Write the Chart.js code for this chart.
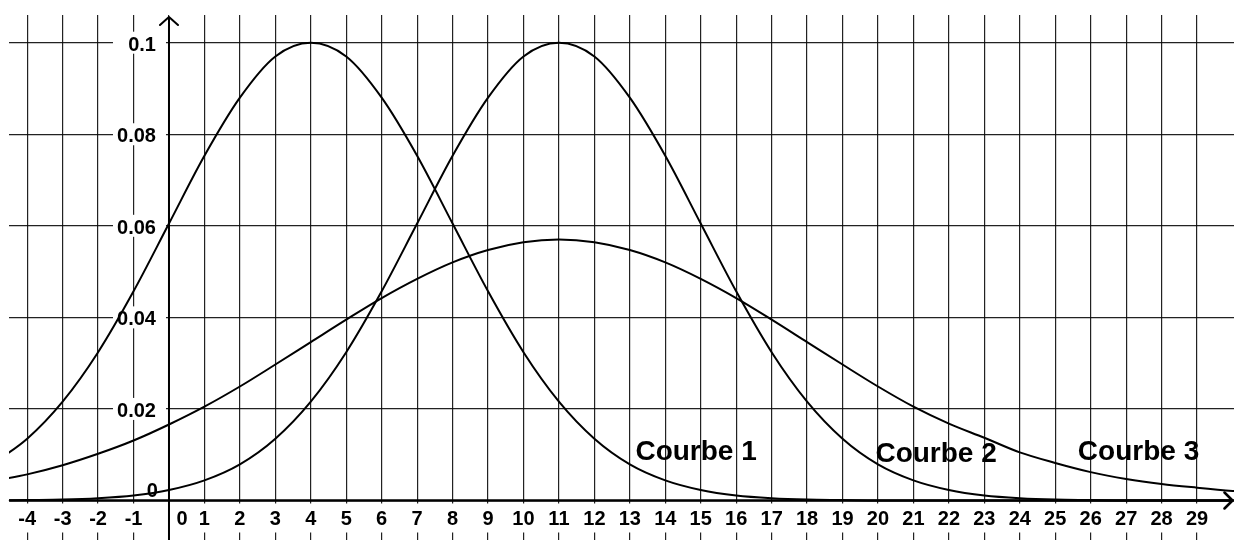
<!DOCTYPE html>
<html>
<head>
<meta charset="utf-8">
<script src="https://cdn.jsdelivr.net/npm/chart.js@4.4.1/dist/chart.umd.min.js"></script>
<style>
html,body{margin:0;padding:0;background:#fff;}
#wrap{width:1234px;height:540px;}
</style>
</head>
<body>
<div id="wrap"><canvas id="c" width="1234" height="540"></canvas></div>
<script>
// ---- data ----
const xValues = [-5,-4,-3,-2,-1,0,1,2,3,4,5,6,7,8,9,10,11,12,13,14,15,16,17,18,19,20,21,22,23,24,25,26,27,28,29,30,31];
const courbe1 = [0.0079,0.0135,0.0216,0.0324,0.0457,0.0605,0.0753,0.0880,0.0970,0.1000,0.0970,0.0880,0.0753,0.0605,0.0457,0.0324,0.0216,0.0135,0.0079,0.0044,0.0023,0.0011,0.0005,0.0002,0.0001,0,0,0,0,0,0,0,0,0,0,0,0];
const courbe2 = [0,0.0001,0.0002,0.0005,0.0011,0.0023,0.0044,0.0079,0.0135,0.0216,0.0324,0.0457,0.0605,0.0753,0.0880,0.0970,0.1000,0.0970,0.0880,0.0753,0.0605,0.0457,0.0324,0.0216,0.0135,0.0079,0.0044,0.0023,0.0011,0.0005,0.0002,0.0001,0,0,0,0,0];
const courbe3 = [0.0042,0.0057,0.0077,0.0102,0.0131,0.0166,0.0205,0.0249,0.0297,0.0346,0.0395,0.0442,0.0484,0.0520,0.0547,0.0564,0.0570,0.0564,0.0547,0.0520,0.0484,0.0442,0.0395,0.0346,0.0297,0.0249,0.0205,0.0168,0.0137,0.0105,0.0082,0.0062,0.0047,0.0036,0.0028,0.0021,0.0016];
const xTickValues = [-4,-3,-2,-1,0,1,2,3,4,5,6,7,8,9,10,11,12,13,14,15,16,17,18,19,20,21,22,23,24,25,26,27,28,29];
const xTickLabels = ['-4','-3','-2','-1','0','1','2','3','4','5','6','7','8','9','10','11','12','13','14','15','16','17','18','19','20','21','22','23','24','25','26','27','28','29'];
const yTickValues = [0,0.02,0.04,0.06,0.08,0.1];
const yTickLabels = ['0','0.02','0.04','0.06','0.08','0.1'];
const curveNames = ['Courbe 1','Courbe 2','Courbe 3'];

// ---- layout / style ----
const nameAnchors = [{x:14.87,y:0.0088},{x:21.64,y:0.0084},{x:27.35,y:0.0088}];
const FONT = '"Liberation Sans", Arial, sans-serif';
const GRID = 'rgba(10,10,10,0.9)';

const pts = arr => xValues.map((x, i) => ({x: x, y: arr[i]}));

const overlay = {
  id: 'overlay',
  beforeDatasetsDraw(chart) {
    const ctx = chart.ctx, xs = chart.scales.x, ys = chart.scales.y;
    const x0 = xs.getPixelForValue(0), y0 = ys.getPixelForValue(0);
    ctx.save();
    ctx.font = 'bold 20px ' + FONT;
    ctx.textBaseline = 'alphabetic';
    // y labels
    yTickValues.forEach((v, i) => {
      const py = ys.getPixelForValue(v);
      ctx.textAlign = 'right';
      if (v === 0) {
        ctx.fillStyle = '#000';
        ctx.fillText(yTickLabels[i], x0 - 11, py - 3);
        return;
      }
      ctx.fillStyle = '#fff';
      ctx.fillRect(x0 - 56, py - 11, 53, 22);
      ctx.fillStyle = '#000';
      ctx.fillText(yTickLabels[i], x0 - 13, py + 8);
    });
    // x labels
    ctx.textAlign = 'center';
    xTickValues.forEach((v, i) => {
      let px = xs.getPixelForValue(v);
      if (v === 0) px += 13;
      const w = ctx.measureText(xTickLabels[i]).width;
      ctx.fillStyle = '#fff';
      ctx.fillRect(px - w / 2 - 5, y0 + 3, w + 10, 29);
      ctx.fillStyle = '#000';
      ctx.fillText(xTickLabels[i], px, y0 + 25);
    });
    // curve names
    ctx.font = 'bold 28px ' + FONT;
    curveNames.forEach((t, i) => {
      ctx.fillStyle = '#000';
      ctx.fillText(t, xs.getPixelForValue(nameAnchors[i].x), ys.getPixelForValue(nameAnchors[i].y));
    });
    ctx.restore();
  },
  afterDatasetsDraw(chart) {
    const ctx = chart.ctx, xs = chart.scales.x, ys = chart.scales.y, ca = chart.chartArea;
    const x0 = xs.getPixelForValue(0), y0 = ys.getPixelForValue(0);
    ctx.save();
    ctx.strokeStyle = '#000';
    ctx.lineCap = 'round';
    ctx.lineJoin = 'round';
    // x axis
    ctx.lineWidth = 2.5;
    const xe = ca.right - 1.5;
    ctx.beginPath();
    ctx.moveTo(ca.left + 1, y0);
    ctx.lineTo(xe, y0);
    ctx.moveTo(xe - 8, y0 - 8);
    ctx.lineTo(xe, y0);
    ctx.lineTo(xe - 8, y0 + 8);
    ctx.stroke();
    // y axis
    ctx.lineWidth = 2;
    const yt = ca.top + 2;
    ctx.beginPath();
    ctx.moveTo(x0, chart.height);
    ctx.lineTo(x0, yt);
    ctx.moveTo(x0 - 9, yt + 8);
    ctx.lineTo(x0, yt);
    ctx.lineTo(x0 + 9, yt + 8);
    ctx.stroke();
    ctx.restore();
  }
};

const lineStyle = {
  borderColor: '#000',
  borderWidth: 2,
  pointRadius: 0,
  fill: false,
  cubicInterpolationMode: 'monotone'
};

new Chart(document.getElementById('c'), {
  type: 'line',
  data: {
    datasets: [
      Object.assign({label: curveNames[0], data: pts(courbe1)}, lineStyle),
      Object.assign({label: curveNames[1], data: pts(courbe2)}, lineStyle),
      Object.assign({label: curveNames[2], data: pts(courbe3)}, lineStyle)
    ]
  },
  options: {
    responsive: false,
    animation: false,
    devicePixelRatio: 1,
    layout: {padding: {top: 15, left: 9, right: 0, bottom: 0}},
    plugins: {legend: {display: false}, tooltip: {enabled: false}},
    events: [],
    scales: {
      x: {
        type: 'linear',
        min: -4.513,
        max: 30.043,
        afterBuildTicks: axis => { axis.ticks = xTickValues.map(v => ({value: v})); },
        ticks: {display: false},
        grid: {color: GRID, lineWidth: 1.2, drawTicks: false},
        border: {display: false}
      },
      y: {
        type: 'linear',
        min: -0.00863,
        max: 0.10605,
        afterBuildTicks: axis => { axis.ticks = yTickValues.map(v => ({value: v})); },
        ticks: {display: false},
        grid: {color: GRID, lineWidth: 1.2, drawTicks: false},
        border: {display: false}
      }
    }
  },
  plugins: [overlay]
});
</script>
</body>
</html>
